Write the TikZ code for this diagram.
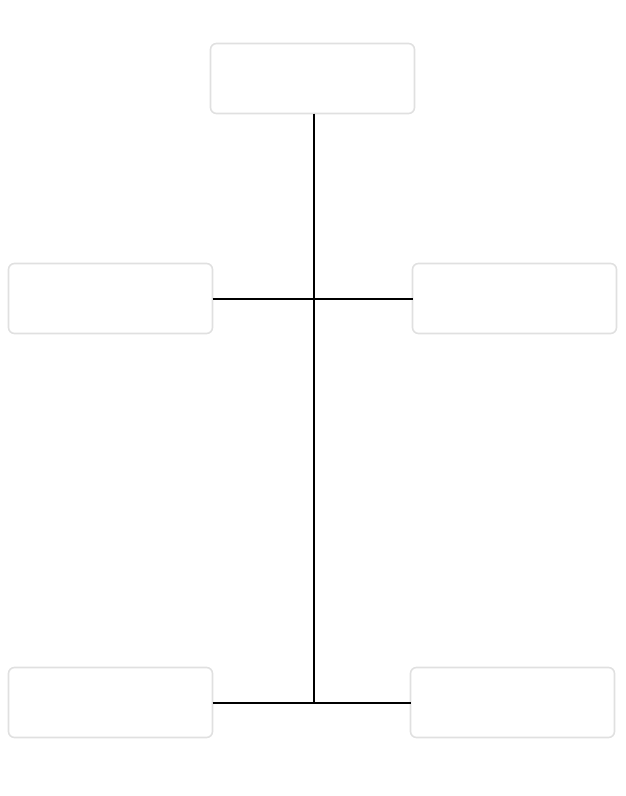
\documentclass[tikz,border=0pt]{standalone}
\usepackage{tikz}
\usetikzlibrary{positioning}

\begin{document}
\begin{tikzpicture}[
    x=1pt, y=-1pt,
    block/.style={rectangle, draw=black!12, line width=1.6pt, rounded corners=6pt,
                  minimum width=204pt, minimum height=70pt, fill=white,
                  inner sep=0pt, outer sep=0pt},
    link/.style={line width=2pt, black},
]
\useasboundingbox (0,0) rectangle (626,796);

% ── Boxes ──
\node[block] (root) at (312.5,78.5) {};
\node[block] (midleft) at (110.5,298.5) {};
\node[block] (midright) at (514.5,298.5) {};
\node[block] (botleft) at (110.5,702.5) {};
\node[block] (botright) at (512.5,702.5) {};

% ── Junction ──
\coordinate (join) at (314,702.5);

% ── Lines ──
\draw[link] ([xshift=1.5pt]root.south) -- (join);
\draw[link] (midleft) -- (midright);
\draw[link] (botleft) -- (botright);

\end{tikzpicture}
\end{document}
